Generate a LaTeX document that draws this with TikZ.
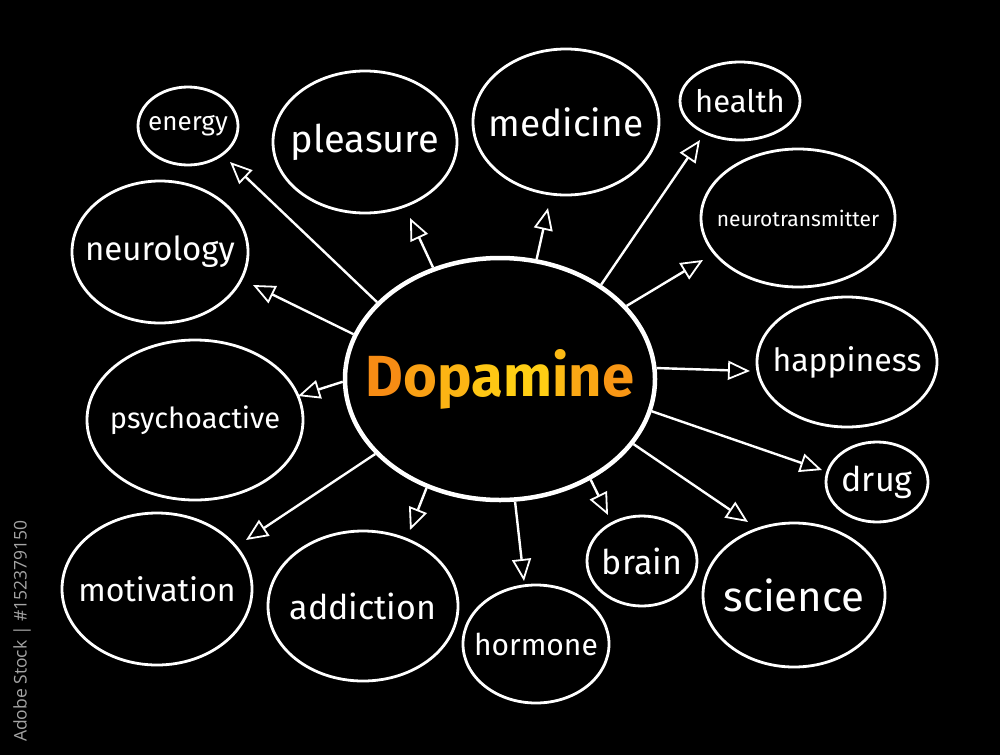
\documentclass[tikz,border=0pt]{standalone}
\usepackage{xcolor}
\usepackage{fontspec}
\setmainfont{Fira Sans}
\newfontfamily\stampfont{Open Sans}
\usepackage{tikz}
\usetikzlibrary{shapes.geometric, arrows.meta}
\definecolor{dopaout}{RGB}{247,140,20}
\definecolor{dopamid}{RGB}{255,206,20}
\definecolor{stampgray}{RGB}{165,165,165}
\newcommand{\fsz}[1]{\fontsize{#1}{#1}\selectfont}
\tikzset{
  bubble/.style={ellipse, draw=white, line width=2.8pt, fill=black, inner sep=0pt},
  hub/.style={bubble, line width=4.5pt},
  word/.style={text=white, inner sep=0pt},
  arrow/.style={-{Triangle[length=22pt, width=19pt, fill=black, line width=1.8pt]},
    draw=white, line width=2.4pt},
}

\begin{document}
\begin{tikzpicture}[x=1pt, y=-1pt]
  \fill[black] (0,0) rectangle (1000,755);

  \node[hub, minimum width=310pt, minimum height=242pt,
    label={[word]center:\fsz{58}\bfseries\textcolor{dopaout}{D}\textcolor{dopamid!30!dopaout}{o}%
     \textcolor{dopamid!60!dopaout}{p}\textcolor{dopamid!90!dopaout}{a}%
     \textcolor{dopamid}{m}\textcolor{dopamid!70!dopaout}{i}%
     \textcolor{dopamid!40!dopaout}{n}\textcolor{dopamid!15!dopaout}{e}}] (dopa) at (500,379) {};

  \node[bubble, minimum width=100pt, minimum height=78pt, label={[word]center:\fsz{26}energy}] (energy) at (188,126) {};
  \node[bubble, minimum width=184pt, minimum height=142pt, label={[word]center:\fsz{38}pleasure}] (pleasure) at (365,142) {};
  \node[bubble, minimum width=186pt, minimum height=146pt, label={[word]center:\fsz{37}medicine}] (medicine) at (566,122) {};
  \node[bubble, minimum width=120pt, minimum height=78pt, label={[word]center:\fsz{31}health}] (health) at (740,101) {};
  \node[bubble, minimum width=194pt, minimum height=138pt, label={[word]center:\fsz{21}neurotransmitter}] (transmit) at (798,218) {};
  \node[bubble, minimum width=176pt, minimum height=142pt, label={[word]center:\fsz{33}neurology}] (neurology) at (160,252) {};
  \node[bubble, minimum width=180pt, minimum height=130pt, label={[word]center:\fsz{32}happiness}] (happy) at (847,362) {};
  \node[bubble, minimum width=216pt, minimum height=160pt, label={[word]center:\fsz{29}psychoactive}] (psycho) at (195,420) {};
  \node[bubble, minimum width=102pt, minimum height=80pt, label={[word]center:\fsz{34}drug}] (drug) at (877,482) {};
  \node[bubble, minimum width=190pt, minimum height=152pt, label={[word]center:\fsz{32}motivation}] (motiv) at (157,589) {};
  \node[bubble, minimum width=190pt, minimum height=150pt, label={[word]center:\fsz{34}addiction}] (addict) at (363,606) {};
  \node[bubble, minimum width=146pt, minimum height=118pt, label={[word]center:\fsz{30}hormone}] (hormone) at (536,644) {};
  \node[bubble, minimum width=110pt, minimum height=90pt, label={[word]center:\fsz{34}brain}] (brain) at (642,561) {};
  \node[bubble, minimum width=182pt, minimum height=144pt, label={[word]center:\fsz{42}science}] (science) at (794,595) {};

  % free arrow ends
  \coordinate (tEnergy) at (230,162);
  \coordinate (tPleasure) at (410,218);
  \coordinate (tMedicine) at (548,208);
  \coordinate (tHealth) at (700,140);
  \coordinate (tTransmit) at (703,260);
  \coordinate (tNeurology) at (253,285);
  \coordinate (tHappy) at (750,371);
  \coordinate (tPsycho) at (298,396);
  \coordinate (tDrug) at (822,470);
  \coordinate (tMotiv) at (246,540);
  \coordinate (tAddict) at (410,530);
  \coordinate (tHormone) at (524,581);
  \coordinate (tBrain) at (608,515);
  \coordinate (tScience) at (748,522);

  \draw[arrow] (dopa.148) -- (tEnergy);
  \draw[arrow] (dopa.121) -- (tPleasure);
  \draw[arrow] (dopa.73) -- (tMedicine);
  \draw[arrow] (dopa.43) -- (tHealth);
  \draw[arrow] (dopa.30) -- (tTransmit);
  \draw[arrow] (dopa.163) -- (tNeurology);
  \draw[arrow] (dopa.4) -- (tHappy);
  \draw[arrow] (dopa.181) -- (tPsycho);
  \draw[arrow] (dopa.-12) -- (tDrug);
  \draw[arrow] (dopa.211) -- (tMotiv);
  \draw[arrow] (dopa.236) -- (tAddict);
  \draw[arrow] (dopa.277) -- (tHormone);
  \draw[arrow] (dopa.312) -- (tBrain);
  \draw[arrow] (dopa.334) -- (tScience);

  \node[rotate=90, anchor=west, text=stampgray, inner sep=0pt] (stamp) at (22,742)
    {\stampfont\fsz{17.5}Adobe Stock | \#152379150};
\end{tikzpicture}
\end{document}
